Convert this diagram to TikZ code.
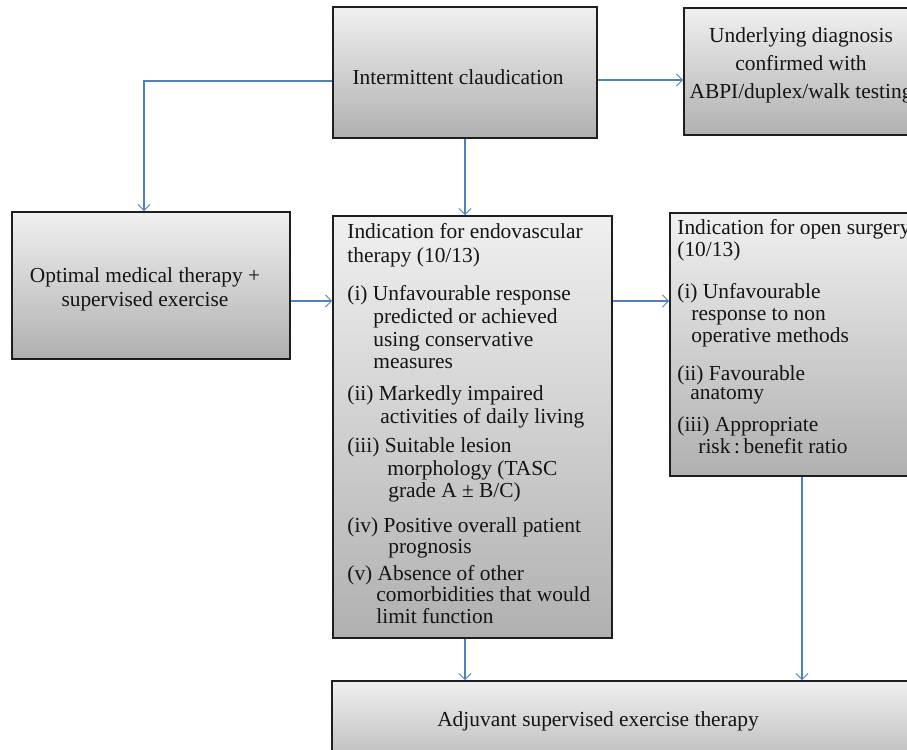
\documentclass[tikz,border=0pt]{standalone}
\usepackage{fontspec}
\setmainfont{Liberation Serif}
\usetikzlibrary{arrows.meta}
\definecolor{arrblue}{RGB}{79,129,189}
\definecolor{boxtop}{RGB}{240,240,240}
\definecolor{boxbot}{RGB}{176,176,176}
\definecolor{boxline}{RGB}{30,30,30}
\definecolor{txtcol}{RGB}{20,20,20}
\tikzset{
  box/.style={rectangle, draw=boxline, line width=0.8pt, top color=boxtop, bottom color=boxbot, inner sep=0pt},
  arr/.style={draw=arrblue, line width=0.55pt, -{Straight Barb[length=3pt,width=6pt,line width=0.5pt]}},
  txt/.style={inner sep=0pt, text=txtcol, font=\fontsize{10.7}{12}\selectfont},
}
\newcommand\mytxt[4]{\node[txt,anchor=base west] (#1) at (#2,#3) {#4};}
\newcommand\mytxc[4]{\node[txt,anchor=base] (#1) at (#2,#3) {#4};}
\begin{document}
\begin{tikzpicture}[x=0.5pt,y=-0.5pt]
\useasboundingbox (0,0) rectangle (907,750);
\clip (0,0) rectangle (907,750);
% boxes
\node[box, minimum width=132pt, minimum height=65.5pt] (A) at (465,72.5) {};
\node[box, minimum width=138pt, minimum height=63.5pt] (B) at (822,71.5) {};
\node[box, minimum width=139pt, minimum height=73.5pt] (C) at (151,285.5) {};
\node[box, minimum width=139.5pt, minimum height=211pt] (D) at (472.5,427) {};
\node[box, minimum width=145pt, minimum height=131.5pt] (E) at (815,344.5) {};
\node[box, minimum width=314pt, minimum height=49.5pt] (F) at (646,730.5) {};
% connectors
\draw[arr] (A.west |- 0,81) -| ([xshift=-3.5pt]C.north);
\draw[arr] (A.east |- 0,80) -- (B.west |- 0,80);
\draw[arr] (A.south) -- (A.south |- D.north);
\draw[arr] (C.east |- 0,301) -- (D.west |- 0,301);
\draw[arr] (D.east |- 0,301) -- (E.west |- 0,301);
\draw[arr] ([xshift=-3.75pt]D.south) -- ([xshift=-3.75pt]D.south |- F.north);
\draw[arr] ([xshift=-6.5pt]E.south) -- ([xshift=-6.5pt]E.south |- F.north);
% texts A, B, C, F
\mytxc{ta}{458}{84}{Intermittent claudication}
\mytxc{tb1}{801}{42}{Underlying diagnosis}
\mytxc{tb2}{801}{70}{confirmed with}
\mytxc{tb3}{801}{98}{ABPI/duplex/walk testing}
\mytxc{tc1}{145}{282}{Optimal medical therapy +}
\mytxc{tc2}{145}{306}{supervised exercise}
\mytxc{tf}{598}{726}{Adjuvant supervised exercise therapy}
% texts D
\mytxt{d1}{347}{238}{Indication for endovascular}
\mytxt{d2}{347}{262}{therapy (10/13)}
\mytxt{d3}{347}{300}{(i) Unfavourable response}
\mytxt{d4}{373}{323}{predicted or achieved}
\mytxt{d5}{373}{346}{using conservative}
\mytxt{d6}{373}{368}{measures}
\mytxt{d7}{347}{400}{(ii) Markedly impaired}
\mytxt{d8}{380}{423}{activities of daily living}
\mytxt{d9}{347}{452}{(iii) Suitable lesion}
\mytxt{d10}{387}{475}{morphology (TASC}
\mytxt{d11}{388}{497}{grade A ± B/C)}
\mytxt{d12}{347}{532}{(iv) Positive overall patient}
\mytxt{d13}{388}{553}{prognosis}
\mytxt{d14}{347}{580}{(v) Absence of other}
\mytxt{d15}{376}{601}{comorbidities that would}
\mytxt{d16}{376}{623}{limit function}
% texts E
\mytxt{e1}{677}{234}{Indication for open surgery}
\mytxt{e2}{677}{256}{(10/13)}
\mytxt{e3}{677}{298}{(i) Unfavourable}
\mytxt{e4}{691}{320}{response to non}
\mytxt{e5}{691}{342}{operative methods}
\mytxt{e6}{677}{380}{(ii) Favourable}
\mytxt{e7}{690}{399}{anatomy}
\mytxt{e8}{677}{431}{(iii) Appropriate}
\mytxt{e9}{698}{453}{risk\,:\,benefit ratio}
\end{tikzpicture}
\end{document}
